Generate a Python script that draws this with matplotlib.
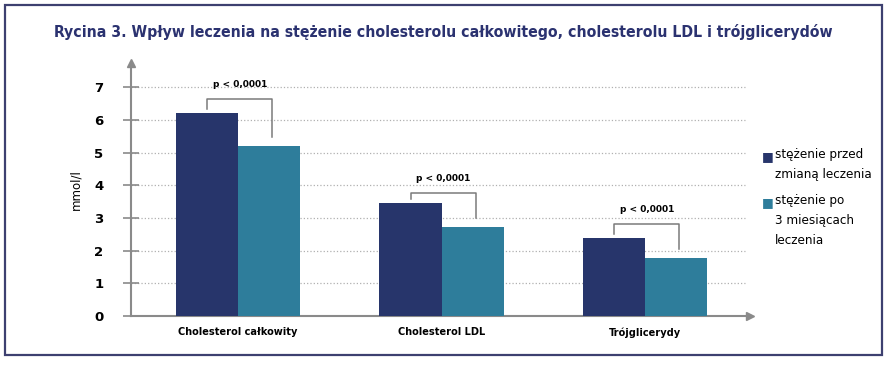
import numpy as np
import matplotlib.pyplot as plt
from matplotlib.patches import Rectangle

# Dane
kategorie = ['Cholesterol całkowity', 'Cholesterol LDL', 'Trójglicerydy']
przed = [6.2, 3.46, 2.39]
po = [5.2, 2.72, 1.77]
p_tekst = ['p < 0,0001', 'p < 0,0001', 'p < 0,0001']
nawias = [6.64, 3.76, 2.81]   # wysokość poziomej kreski nawiasu
etykiety = ['stężenie przed\nzmianą leczenia', 'stężenie po\n3 miesiącach\nleczenia']

c_przed = '#27356b'
c_po = '#2e7d9b'
c_tytul = '#2b3270'
c_os = '#8a8a8a'

fig = plt.figure(figsize=(8.87, 3.65), dpi=100)
ax = fig.add_axes([0.1477, 0.1342, 0.6979, 0.6928])

x = np.arange(len(kategorie))
w = 0.305
ax.bar(x - w/2, przed, w, color=c_przed, zorder=3)
ax.bar(x + w/2, po, w, color=c_po, zorder=3)

ax.set_xlim(-0.526, 2.516)
ax.set_ylim(0, 7.74)
ax.set_yticks(range(0, 8))
ax.set_yticklabels([str(i) for i in range(0, 8)], fontweight='bold', fontsize=9.5)
ax.set_xticks(x)
ax.set_xticklabels(kategorie, fontweight='bold', fontsize=7.8, fontstretch='condensed')
ax.tick_params(axis='x', length=0, pad=8)
ax.tick_params(axis='y', direction='inout', length=12, color=c_os, width=1.2, pad=14)

for s in ['top', 'right']:
    ax.spines[s].set_visible(False)
for s in ['left', 'bottom']:
    ax.spines[s].set_color(c_os)
    ax.spines[s].set_linewidth(1.5)
ax.plot(0, 1, '^', color=c_os, ms=6, transform=ax.transAxes, clip_on=False)
ax.plot(1, 0, '>', color=c_os, ms=6, transform=ax.transAxes, clip_on=False)

for yv in range(1, 8):
    ax.plot([-0.526, 2.49], [yv, yv], ':', color='#b0b0b0', lw=0.9, zorder=1)

# nawiasy istotności
for i in range(len(kategorie)):
    xl = x[i] - w/2
    xr = x[i] + w/2 + 0.015
    top = nawias[i]
    ax.plot([xl, xl, xr, xr], [przed[i] + 0.13, top, top, po[i] + 0.27],
            color='#7a7a7a', lw=1.1, zorder=4)
    ax.text(x[i] + 0.01, top + 0.44, p_tekst[i], ha='center', va='center',
            fontsize=6.5, fontweight='bold')

ax.set_ylabel('mmol/l', fontsize=8.5, labelpad=8)

# legenda
fig.text(0.859, 1 - 157/365, '\u25A0', color=c_przed, fontsize=9, va='center')
fig.text(0.874, 1 - 148/365, etykiety[0], fontsize=9.5, va='top', linespacing=1.7,
         fontstretch='condensed')
fig.text(0.859, 1 - 203/365, '\u25A0', color=c_po, fontsize=9, va='center')
fig.text(0.874, 1 - 194/365, etykiety[1], fontsize=9.5, va='top', linespacing=1.7,
         fontstretch='condensed')

fig.text(0.5, 1 - 32/365, 'Rycina 3. Wpływ leczenia na stężenie cholesterolu całkowitego, cholesterolu LDL i trójglicerydów',
         ha='center', va='center', fontsize=11.3, fontweight='bold', fontstretch='condensed',
         color=c_tytul)

fig.patches.append(Rectangle((0.006, 0.027), 0.988, 0.96, transform=fig.transFigure,
                             fill=False, edgecolor='#3d4070', lw=1.6))

fig.savefig('out.png', dpi=100)
